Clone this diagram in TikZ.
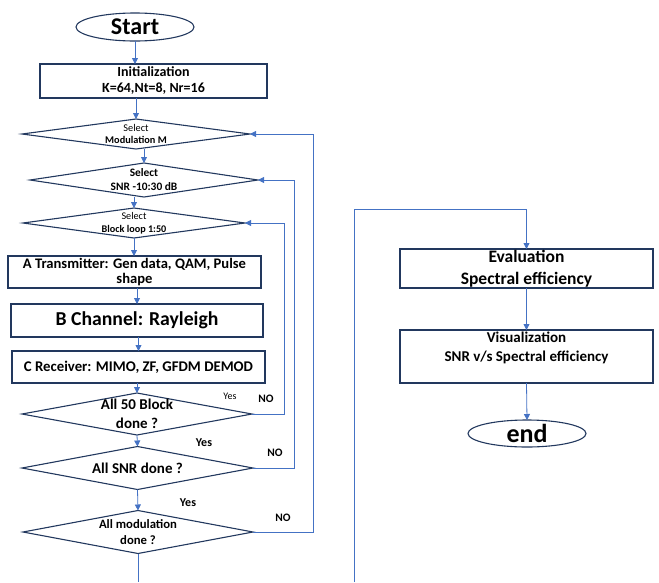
\documentclass[tikz,border=0pt]{standalone}
\usepackage{fontspec}
\setmainfont{Carlito}
\usetikzlibrary{shapes.geometric,arrows.meta}
\definecolor{navy}{HTML}{22385E}
\definecolor{lblue}{HTML}{4472C4}
\begin{document}
\begin{tikzpicture}[x=1pt,y=-1pt,
  every node/.style={inner sep=0pt,outer sep=0pt,align=center,text=black},
  bx/.style={draw=navy,line width=1.3pt,rectangle},
  ell/.style={draw=navy,line width=1.1pt,ellipse},
  dia/.style={draw=navy,line width=1.1pt,diamond},
  conn/.style={draw=lblue,line width=0.8pt},
  arr/.style={conn,-{Triangle[width=6pt,length=6pt]}},
  lbl/.style={font=\fontsize{#1}{#1}\selectfont\bfseries}]
\useasboundingbox (0,0) rectangle (659,582);
% left column
\node[ell,minimum width=118,minimum height=28,font=\fontsize{24}{28}\selectfont\bfseries] (start) at (135,27) {Start};
\node[bx,minimum width=227,minimum height=34,font=\fontsize{14}{16}\selectfont\bfseries] (init) at (153.5,81) {Initialization\\K=64,Nt=8, Nr=16};
\node[dia,minimum width=228,minimum height=30,
  label={[align=center,font=\fontsize{10.3}{12.5}\selectfont]center:Select\\\textbf{Modulation M}}] (d1) at (136,134) {};
\node[dia,minimum width=228,minimum height=34,
  label={[align=center,font=\fontsize{11.4}{14}\selectfont\bfseries]center:Select\\SNR -10:30 dB}] (d2) at (144,180) {};
\node[dia,minimum width=222,minimum height=30,
  label={[align=center,font=\fontsize{10.2}{13}\selectfont]center:Select\\\textbf{Block loop 1:50}}] (d3) at (134,223) {};
\node[bx,minimum width=253,minimum height=32,font=\fontsize{14.6}{15.5}\selectfont\bfseries] (bA) at (134.5,272) {A Transmitter: Gen data, QAM, Pulse\\shape};
\node[bx,minimum width=252,minimum height=33,font=\fontsize{19.7}{22}\selectfont\bfseries] (bB) at (137,320.5) {B Channel: Rayleigh};
\node[bx,minimum width=253,minimum height=32,font=\fontsize{14.8}{16}\selectfont\bfseries] (bC) at (138.5,367) {C Receiver: MIMO, ZF, GFDM DEMOD};
\node[dia,minimum width=230,minimum height=42,
  label={[align=center,font=\fontsize{15}{18.5}\selectfont\bfseries]center:All 50 Block\\done ?}] (d4) at (137,414) {};
\node[dia,minimum width=231,minimum height=43,
  label={[align=center,font=\fontsize{15}{17}\selectfont\bfseries]center:All SNR done ?}] (d5) at (137.5,468) {};
\node[dia,minimum width=230,minimum height=43,
  label={[align=center,font=\fontsize{12.7}{16}\selectfont\bfseries]center:All modulation\\done ?}] (d6) at (138,532) {};
% right column
\node[bx,minimum width=253,minimum height=39,
  label={[align=center,font=\fontsize{17.5}{21.5}\selectfont\bfseries]center:Evaluation\\Spectral efficiency}] (eval) at (526.5,268.5) {};
\node[bx,minimum width=253,minimum height=53,
  label={[align=center,yshift=8.5pt,font=\fontsize{15}{19.5}\selectfont\bfseries]center:Visualization\\SNR v/s Spectral efficiency}] (vis) at (526.5,356.5) {};
\node[ell,minimum width=118,minimum height=27,font=\fontsize{26}{28}\selectfont\bfseries] (end) at (527,433.5) {end};
% yes/no labels
\node[font=\fontsize{10}{10}\selectfont] (y1) at (230,396) {Yes};
\node[lbl=11.4] (n1) at (266,399) {NO};
\node[lbl=12] (y2) at (204,443) {Yes};
\node[lbl=11.4] (n2) at (275,453) {NO};
\node[lbl=12] (y3) at (188,503) {Yes};
\node[lbl=11.4] (n3) at (283,518) {NO};
% helper coordinates
\coordinate (l1) at (284,300);
\coordinate (l2) at (294,300);
\coordinate (l3) at (313,300);
\coordinate (cB) at (137,582);
\coordinate (rB) at (354,582);
\coordinate (rT) at (354,209);
% main flow
\draw[arr] (start.south) -- (start.south |- init.north);
\draw[arr] (d1.north |- init.south) -- (d1.north);
\draw[arr] (d2.north |- d1.south) -- (d2.north);
\draw[arr] (d3.north |- d2.south) -- (d3.north);
\draw[arr] (d3.south) -- (d3.south |- bA.north);
\draw[arr] (bA.south -| bB.north) -- (bB.north);
\draw[arr] (bB.south -| bC.north) -- (bC.north);
\draw[arr] (bC.south -| d4.north) -- (d4.north);
\draw[arr] (d4.south) -- (d5.north);
\draw[arr] (d5.south) -- (d6.north);
\draw[conn] (d6.south) -- (d6.south |- cB);
% loops
\draw[arr] (d4.east) -- (d4.east -| l1) |- (d3.east);
\draw[arr] (d5.east) -- (d5.east -| l2) |- (d2.east);
\draw[arr] (d6.east) -- (d6.east -| l3) |- (d1.east);
% right column flow
\draw[arr] (rB) -- (rT) -| (eval.north);
\draw[arr] (eval.south) -- (vis.north);
\draw[arr] (vis.south) -- (end.north);
\end{tikzpicture}
\end{document}
